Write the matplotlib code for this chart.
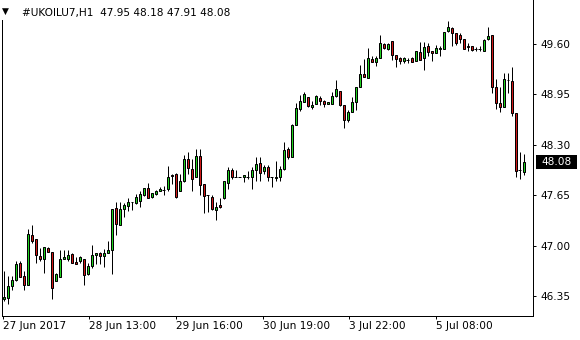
import matplotlib
matplotlib.use("Agg")
import matplotlib.pyplot as plt
from matplotlib.patches import Rectangle
import matplotlib.transforms as mtransforms
import numpy as np

symbol = "#UKOILU7,H1"

opens = [46.31, 46.33, 46.48, 46.56, 46.78, 46.61, 46.50, 47.14, 47.09, 46.87,
         46.83, 46.97, 46.92, 46.54, 46.60, 46.83, 46.83, 46.90, 46.79, 46.81,
         46.83, 46.63, 46.74, 46.88, 46.91, 46.87, 46.91, 46.95, 47.49, 47.27,
         47.47, 47.51, 47.57, 47.55, 47.58, 47.66, 47.74, 47.63, 47.67, 47.71,
         47.72, 47.73, 47.91, 47.93, 47.71, 47.84, 48.12, 47.99, 47.88, 48.16,
         47.79, 47.65, 47.63, 47.46, 47.52, 47.61, 47.81, 47.98, 47.88, 47.88,
         47.88, 47.89, 47.89, 47.98, 48.07, 47.96, 48.02, 47.88, 47.87, 47.88,
         47.99, 48.25, 48.15, 48.56, 48.76, 48.85, 48.92, 48.79, 48.83, 48.91,
         48.87, 48.83, 48.83, 48.93, 49.00, 48.81, 48.62, 48.72, 48.85, 49.04,
         49.21, 49.16, 49.41, 49.37, 49.42, 49.60, 49.54, 49.64, 49.46, 49.42,
         49.38, 49.40, 49.42, 49.38, 49.50, 49.42, 49.57, 49.51, 49.49, 49.54,
         49.54, 49.77, 49.80, 49.74, 49.71, 49.66, 49.57, 49.57, 49.54, 49.54,
         49.51, 49.66, 49.72, 49.04, 48.84, 48.79, 49.14, 49.12, 48.71, 47.97,
         47.95]
highs = [46.67, 46.61, 46.61, 46.81, 46.81, 46.67, 47.22, 47.27, 47.09, 46.97,
         46.99, 46.99, 46.92, 46.65, 46.95, 46.95, 46.94, 46.91, 46.86, 46.87,
         46.83, 46.78, 47.01, 46.91, 46.92, 46.96, 47.06, 47.48, 47.57, 47.57,
         47.55, 47.62, 47.57, 47.67, 47.71, 47.75, 47.81, 47.68, 47.72, 47.76,
         47.77, 48.03, 47.92, 47.94, 47.92, 48.17, 48.21, 48.12, 48.25, 48.25,
         47.79, 47.66, 47.66, 47.56, 47.61, 47.84, 48.01, 48.00, 47.98, 47.88,
         47.91, 47.96, 48.02, 48.14, 48.14, 48.04, 48.04, 47.88, 48.09, 48.03,
         48.34, 48.27, 48.57, 48.84, 48.94, 48.98, 48.92, 48.87, 48.94, 48.93,
         48.88, 48.85, 48.98, 49.13, 49.00, 48.81, 48.75, 48.92, 49.05, 49.33,
         49.41, 49.55, 49.45, 49.44, 49.71, 49.61, 49.61, 49.64, 49.46, 49.43,
         49.43, 49.42, 49.43, 49.51, 49.63, 49.62, 49.61, 49.51, 49.59, 49.57,
         49.75, 49.89, 49.82, 49.74, 49.74, 49.66, 49.61, 49.57, 49.56, 49.57,
         49.66, 49.82, 49.72, 49.15, 49.05, 49.22, 49.22, 49.31, 48.71, 48.21,
         48.18]
lows = [46.29, 46.25, 46.43, 46.55, 46.60, 46.43, 46.50, 47.03, 46.78, 46.81,
        46.65, 46.92, 46.31, 46.54, 46.60, 46.83, 46.81, 46.78, 46.77, 46.78,
        46.50, 46.62, 46.71, 46.76, 46.76, 46.73, 46.91, 46.64, 47.14, 47.27,
        47.37, 47.45, 47.46, 47.54, 47.50, 47.64, 47.61, 47.61, 47.66, 47.70,
        47.66, 47.71, 47.79, 47.62, 47.71, 47.82, 47.92, 47.71, 47.88, 47.66,
        47.42, 47.43, 47.46, 47.33, 47.49, 47.60, 47.73, 47.86, 47.88, 47.88,
        47.82, 47.86, 47.73, 47.84, 47.84, 47.92, 47.84, 47.76, 47.84, 47.84,
        47.98, 48.12, 48.15, 48.55, 48.74, 48.85, 48.79, 48.76, 48.83, 48.81,
        48.79, 48.83, 48.83, 48.92, 48.80, 48.52, 48.60, 48.72, 48.75, 49.04,
        49.17, 49.16, 49.37, 49.32, 49.42, 49.54, 49.52, 49.40, 49.31, 49.34,
        49.36, 49.35, 49.37, 49.38, 49.39, 49.27, 49.44, 49.38, 49.48, 49.44,
        49.54, 49.76, 49.57, 49.59, 49.61, 49.54, 49.51, 49.51, 49.51, 49.51,
        49.51, 49.65, 48.97, 48.76, 48.72, 48.79, 48.97, 48.67, 47.88, 47.86,
        47.91]
closes = [46.34, 46.48, 46.56, 46.77, 46.60, 46.50, 47.15, 47.06, 46.88, 46.83,
          46.99, 46.92, 46.45, 46.63, 46.83, 46.85, 46.88, 46.78, 46.77, 46.85,
          46.62, 46.74, 46.88, 46.91, 46.87, 46.91, 46.94, 47.48, 47.28, 47.47,
          47.52, 47.57, 47.56, 47.63, 47.67, 47.74, 47.61, 47.68, 47.71, 47.73,
          47.72, 47.88, 47.90, 47.63, 47.84, 48.12, 48.00, 47.86, 48.16, 47.78,
          47.64, 47.65, 47.47, 47.50, 47.50, 47.84, 47.98, 47.88, 47.88, 47.88,
          47.91, 47.89, 47.98, 48.06, 47.94, 48.01, 47.89, 47.88, 47.88, 47.99,
          48.24, 48.14, 48.56, 48.77, 48.87, 48.95, 48.80, 48.82, 48.93, 48.87,
          48.83, 48.85, 48.93, 49.02, 48.81, 48.62, 48.72, 48.85, 49.04, 49.21,
          49.17, 49.42, 49.37, 49.42, 49.61, 49.55, 49.60, 49.46, 49.41, 49.38,
          49.42, 49.40, 49.37, 49.51, 49.39, 49.56, 49.50, 49.48, 49.55, 49.55,
          49.75, 49.82, 49.74, 49.61, 49.66, 49.54, 49.56, 49.52, 49.54, 49.54,
          49.65, 49.70, 49.05, 48.84, 48.79, 49.15, 49.13, 48.71, 47.96, 47.97,
          48.08]

x_tick_labels = ["27 Jun 2017", "28 Jun 13:00", "29 Jun 16:00",
                 "30 Jun 19:00", "3 Jul 22:00", "5 Jul 08:00"]
x_tick_bars = [-0.2, 21.45, 43.1, 64.8, 86.4, 108.05]
y_ticks = [46.35, 47.00, 47.65, 48.30, 48.95, 49.60]

bull_color = "#1fd21f"
bear_color = "#d01818"

W, H = 580, 340
PX = 0.72  # one pixel in points at 100 dpi
FS = 7.6

fig = plt.figure(figsize=(W / 100, H / 100), dpi=100)
fig.patch.set_facecolor("white")
ax = fig.add_axes([2 / W, 24 / H, 531 / W, 316 / H])
ax.set_facecolor("white")

n = len(opens)
xs = np.arange(n)
o = np.array(opens)
h = np.array(highs)
l = np.array(lows)
c = np.array(closes)

# wicks
ax.vlines(xs, l, h, color="black", linewidth=PX)
# bodies
for xi, oi, ci in zip(xs, o, c):
    if abs(ci - oi) < 0.005:
        ax.hlines(oi, xi - 0.375, xi + 0.375, color="black", linewidth=PX)
    else:
        col = bull_color if ci > oi else bear_color
        ax.add_patch(Rectangle((xi - 0.25, min(oi, ci)), 0.5, abs(ci - oi),
                               facecolor=col, edgecolor="black", linewidth=PX,
                               zorder=3))

ax.set_xlim(-0.375, 132.375)
ax.set_ylim(49.60 - 272 / 77.6, 49.60 + 44 / 77.6)

for side in ["left", "right", "bottom"]:
    ax.spines[side].set_linewidth(PX)
    ax.spines[side].set_color("black")
ax.spines["top"].set_visible(False)

ax.yaxis.tick_right()
ax.set_yticks(y_ticks)
ax.set_yticklabels([f"{v:.2f}" for v in y_ticks])
ax.tick_params(axis="y", direction="out", length=3 * PX, width=PX,
               pad=4.5 * PX, labelsize=FS, colors="black")
ax.set_xticks(x_tick_bars)
ax.set_xticklabels(x_tick_labels)
ax.tick_params(axis="x", direction="out", length=3 * PX, width=PX,
               pad=2 * PX, labelsize=FS, colors="black")
for lab in ax.get_xticklabels():
    lab.set_horizontalalignment("left")

# current price label
last = closes[-1]
trans = mtransforms.blended_transform_factory(ax.transAxes, ax.transData)
bx0 = 1 + 2.7 / 531
bx1 = 1 + 44 / 531
hh = 7 / 77.6
ax.add_patch(Rectangle((bx0, last - hh), bx1 - bx0, 2 * hh, transform=trans,
                       facecolor="black", edgecolor="none", clip_on=False,
                       zorder=5))
ax.text((bx0 + bx1) / 2, last, f"{last:.2f}", transform=trans, color="white",
        fontsize=FS, ha="center", va="center", zorder=6, clip_on=False)

# header (white backdrop hides the frame behind it)
fig.patches.append(Rectangle((0, 1 - 20 / H), 250 / W, 20 / H,
                             transform=fig.transFigure, facecolor="white",
                             edgecolor="none", zorder=10))
fig.text(2 / W, 1 - 11.5 / H, "\u25bc", fontsize=6.5, color="black",
         va="center", ha="left", zorder=11)
fig.text(22 / W, 1 - 13 / H,
         f"{symbol}  {opens[-1]:.2f} {highs[-1]:.2f} {lows[-1]:.2f} {closes[-1]:.2f}",
         fontsize=FS, color="black", va="center", ha="left", zorder=11)

fig.savefig("out.png", dpi=100, facecolor="white")
